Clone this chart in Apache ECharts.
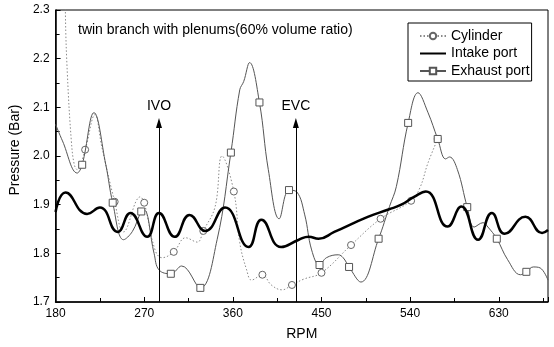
<!DOCTYPE html>
<html>
<head>
<meta charset="utf-8">
<script src="https://cdn.jsdelivr.net/npm/echarts@6/dist/echarts.min.js"></script>
<style>
html,body{margin:0;padding:0;background:#fff;}
#chart{width:554px;height:347px;}
</style>
</head>
<body>
<div id="chart"></div>
<script>
// ---- data ----
const cylinderData = [[186,2.9],[190,2.29],[192,2.167],[196,2.031],[199,1.982],[202,1.972],[210,2.013],[220,2.085],[227,2.018],[240,1.906],[249,1.844],[266,1.916],[270,1.904],[281,1.807],[288,1.791],[300,1.803],[312,1.832],[324,1.823],[330,1.846],[342,1.896],[349,2.0],[361,1.927],[367,1.822],[374,1.766],[379,1.745],[390,1.756],[399,1.735],[410,1.725],[420,1.735],[432,1.747],[450,1.760],[480,1.817],[510,1.871],[541,1.908],[550,1.935],[558,1.985],[568,2.035]];
const cylinderMarks = [210,240,270,300,330,361,390,420,450,480,510,541,568];

const intakeData = [[180,1.885],[190,1.925],[212,1.881],[225,1.894],[243,1.844],[256,1.883],[273,1.834],[285,1.883],[301,1.834],[316,1.879],[332,1.846],[352,1.894],[376,1.813],[389,1.869],[409,1.813],[427,1.828],[437,1.834],[447,1.830],[463,1.844],[497,1.875],[518,1.890],[531,1.900],[544,1.916],[556,1.927],[578,1.855],[592,1.896],[609,1.828],[623,1.883],[636,1.840],[657,1.875],[674,1.842],[680,1.848]];

const exhaustData = [[180,2.065],[187,2.031],[202,1.965],[207,1.982],[219,2.089],[231,1.982],[238,1.904],[249,1.828],[258,1.845],[267,1.886],[270,1.889],[280,1.80],[285,1.766],[297,1.758],[308,1.774],[327,1.729],[344,1.828],[358,2.007],[367,2.136],[371,2.153],[377,2.192],[387,2.110],[396,1.972],[407,1.871],[417,1.930],[425,1.926],[433,1.879],[440,1.807],[448,1.776],[455,1.791],[467,1.797],[472,1.791],[478,1.772],[490,1.741],[508,1.830],[519,1.896],[526,1.937],[538,2.068],[548,2.130],[558,2.09],[568,2.035],[576,1.994],[580,1.998],[588,1.972],[598,1.895],[605,1.854],[614,1.863],[619,1.854],[628,1.830],[639,1.787],[652,1.756],[658,1.762],[665,1.772],[672,1.770],[680,1.745]];
const exhaustMarks = [207,238,267,297,327,358,387,417,448,478,508,538,568,598,628,658];

const seriesNames = ['Cylinder','Intake port','Exhaust port'];
const arrowX = [285, 424];
const arrowLabels = ['IVO','EVC'];
const arrowTop = 2.068;
const noteText = 'twin branch with plenums(60% volume ratio)';
const xName = 'RPM';
const yName = 'Pressure (Bar)';

// ---- chart ----
const FONT = '"Liberation Sans", Arial, sans-serif';
function withMarks(data, marks, sym){
  return data.map(p => ({value: p, symbol: marks.indexOf(p[0]) >= 0 ? sym : 'none'}));
}
const chart = echarts.init(document.getElementById('chart'), null, {renderer:'canvas'});
chart.setOption({
  animation:false,
  backgroundColor:'#fff',
  textStyle:{fontFamily:FONT},
  title:{text:noteText, left:73, top:18, textStyle:{fontFamily:FONT, fontSize:14, fontWeight:'normal', color:'#000'}},
  legend:{
    data:[
      {name:seriesNames[0]},
      {name:seriesNames[1], itemStyle:{color:'rgba(0,0,0,0)', borderColor:'rgba(0,0,0,0)', borderWidth:0, opacity:0}},
      {name:seriesNames[2]}
    ],
    orient:'vertical', left:408, top:23,
    borderColor:'#000', borderWidth:1, padding:[5,2,2,11],
    itemWidth:26, itemHeight:8, itemGap:1.5,
    textStyle:{fontFamily:FONT, fontSize:14, color:'#000', lineHeight:16}
  },
  grid:{left:53, right:6, top:10, bottom:45, show:true, borderColor:'#000', borderWidth:1},
  xAxis:{
    type:'value', min:180, max:680, interval:90,
    name:xName, nameLocation:'middle', nameGap:25,
    nameTextStyle:{fontFamily:FONT, fontSize:14, color:'#000'},
    axisLine:{lineStyle:{color:'#000', width:1.5}},
    axisTick:{inside:true, length:5, lineStyle:{color:'#000'}},
    minorTick:{show:true, splitNumber:2, length:4, lineStyle:{color:'#000'}},
    axisLabel:{fontFamily:FONT, fontSize:12, color:'#000', margin:6, showMaxLabel:false},
    splitLine:{show:false}
  },
  yAxis:{
    type:'value', min:1.7, max:2.3, interval:0.1,
    name:yName, nameLocation:'middle', nameGap:26,
    nameTextStyle:{fontFamily:FONT, fontSize:14, color:'#000', padding:[0,0,0,12]},
    axisLine:{show:true, lineStyle:{color:'#000', width:1.5}},
    axisTick:{show:true, inside:true, length:5, lineStyle:{color:'#000'}},
    minorTick:{show:true, splitNumber:2, length:4, lineStyle:{color:'#000'}},
    axisLabel:{fontFamily:FONT, fontSize:12, color:'#000', margin:6, formatter:v=>v.toFixed(1)},
    splitLine:{show:false}
  },
  series:[
    {
      name:seriesNames[0], type:'line', smooth:0.4, clip:true,
      data:withMarks(cylinderData, cylinderMarks, 'circle'),
      symbol:'circle', symbolSize:7, showSymbol:true,
      lineStyle:{color:'#8a8a8a', width:1, type:[1.5,2]},
      itemStyle:{color:'#fff', borderColor:'#666', borderWidth:1},
      z:2
    },
    {
      name:seriesNames[2], type:'line', smooth:0.4, clip:true,
      data:withMarks(exhaustData, exhaustMarks, 'rect'),
      symbol:'rect', symbolSize:7, showSymbol:true,
      lineStyle:{color:'#555', width:1},
      itemStyle:{color:'#fff', borderColor:'#555', borderWidth:1},
      z:3
    },
    {
      name:seriesNames[1], type:'line', smooth:0.5, clip:true,
      data:intakeData, symbol:'none', showSymbol:false,
      lineStyle:{color:'#000', width:2.5},
      itemStyle:{color:'#000'},
      z:4,
      markLine:{
        silent:true, animation:false,
        symbol:['none','triangle'], symbolSize:[0,[6,10]],
        lineStyle:{color:'#000', width:1, type:'solid'},
        label:{show:true, position:'end', distance:10, formatter:'{b}', fontFamily:FONT, fontSize:14, color:'#000'},
        emphasis:{disabled:true},
        data: arrowX.map((x,i)=>[
          {name:arrowLabels[i], coord:[x,1.7], symbol:'none'},
          {name:arrowLabels[i], coord:[x,arrowTop], symbol:'triangle', symbolSize:[6,10]}
        ])
      }
    }
  ]
});
</script>
</body>
</html>
